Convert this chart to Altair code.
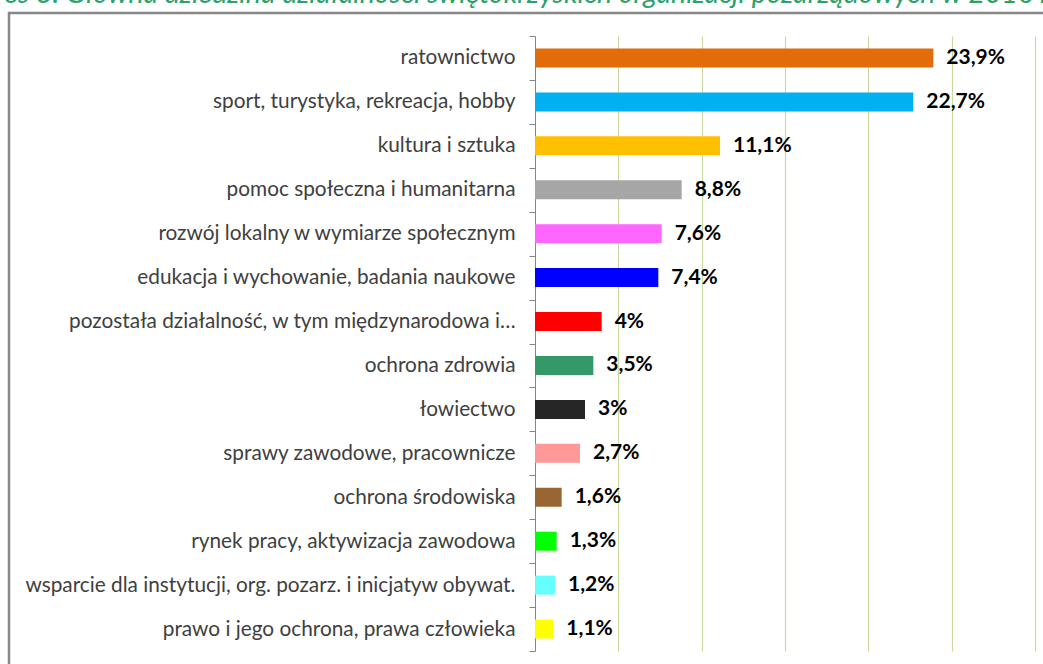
import altair as alt
import pandas as pd

categories = [
    "ratownictwo",
    "sport, turystyka, rekreacja, hobby",
    "kultura i sztuka",
    "pomoc społeczna i humanitarna",
    "rozwój lokalny w wymiarze społecznym",
    "edukacja i wychowanie, badania naukowe",
    "pozostała działalność, w tym międzynarodowa i…",
    "ochrona zdrowia",
    "łowiectwo",
    "sprawy zawodowe, pracownicze",
    "ochrona środowiska",
    "rynek pracy, aktywizacja zawodowa",
    "wsparcie dla instytucji, org. pozarz. i inicjatyw obywat.",
    "prawo i jego ochrona, prawa człowieka",
]
values = [23.9, 22.7, 11.1, 8.8, 7.6, 7.4, 4, 3.5, 3, 2.7, 1.6, 1.3, 1.2, 1.1]
colors = [
    "#E36C0A", "#00B0F0", "#FFC000", "#A6A6A6", "#FF66FF", "#0000FF", "#FF0000",
    "#339966", "#262626", "#FF9999", "#996633", "#00FF00", "#66FFFF", "#FFFF00",
]
title_text = "Wykres 3. Główna dziedzina działalności świętokrzyskich organizacji pozarządowych w 2016 r."

df = pd.DataFrame({
    "cat": categories,
    "value": values,
    "color": colors,
    "label": [f"{v:g}".replace(".", ",") + "%" for v in values],
})

y_enc = alt.Y(
    "cat:N",
    sort=categories,
    scale=alt.Scale(paddingInner=0, paddingOuter=0),
    title=None,
    axis=alt.Axis(
        tickBand="extent",
        tickSize=6,
        tickColor="#868686",
        domainColor="#868686",
        labelFont="Lato",
        labelFontSize=20.8,
        labelColor="#404040",
        labelPadding=14,
        labelLimit=700,
        grid=False,
    ),
)
x_enc = alt.X(
    "value:Q",
    scale=alt.Scale(domain=[0, 30], nice=False),
    title=None,
    axis=alt.Axis(
        values=[5, 10, 15, 20, 25, 30],
        labels=False,
        ticks=False,
        domain=False,
        grid=True,
        gridColor="#C9DAA0",
        gridWidth=1.2,
    ),
)

base = alt.Chart(df)
bars = base.mark_bar(size=19).encode(
    x=x_enc,
    y=y_enc,
    color=alt.Color("color:N", scale=None),
)
labels = base.mark_text(
    align="left", baseline="middle", dx=13, font="Lato", fontSize=21,
    fontWeight="bold", color="#000000",
).encode(x="value:Q", y=alt.Y("cat:N", sort=categories), text="label:N")

one = alt.Data(values=[{"k": 1}])
border = alt.Chart(one).mark_rect(
    fill=None, stroke="#888888", strokeWidth=2.5, clip=False
).encode(
    x=alt.value(-526), x2=alt.value(700), y=alt.value(-23), y2=alt.value(800)
)
title = alt.Chart(one).mark_text(
    align="left", baseline="alphabetic", font="Lato", fontSize=28.5,
    fontStyle="italic", color="#2EA06B", clip=False,
).encode(x=alt.value(-594), y=alt.value(-33), text=alt.value(title_text))

chart = alt.layer(border, bars, labels, title).properties(
    width=500,
    height=615,
    autosize=alt.AutoSizeParams(type="none"),
    padding={"left": 535, "top": 36, "right": 8, "bottom": 13},
    background="white",
).configure_view(stroke=None)

chart.save("out.html", embed_options={"renderer": "svg", "actions": False})
